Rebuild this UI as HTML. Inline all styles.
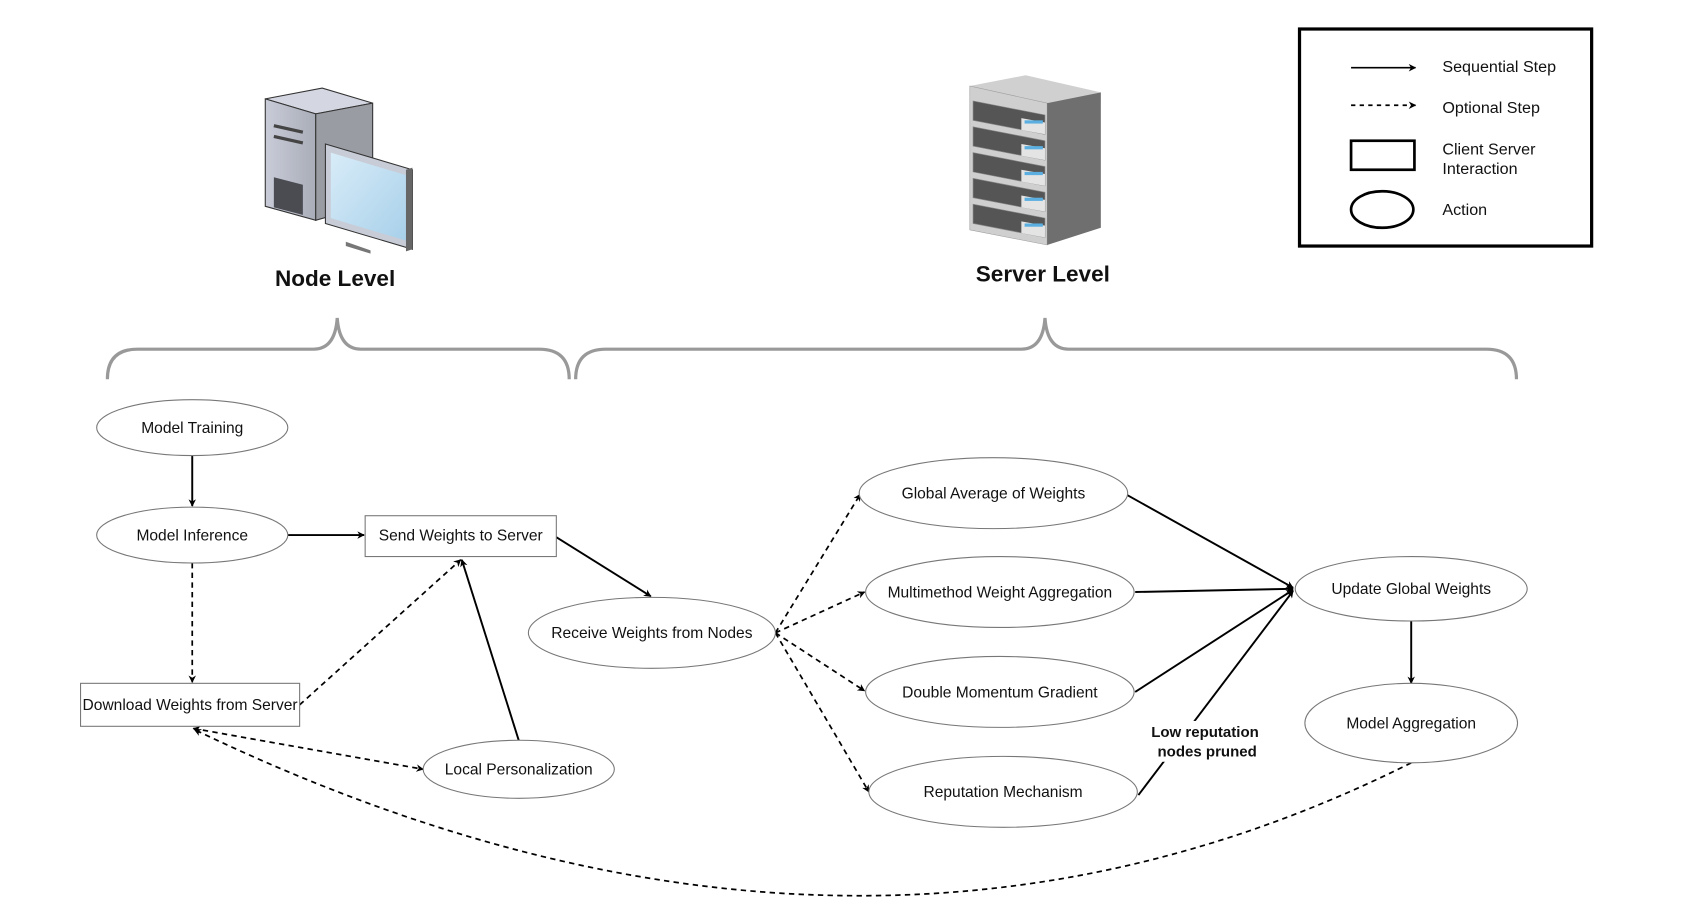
<!DOCTYPE html>
<html><head><meta charset="utf-8"><style>
html,body{margin:0;padding:0;background:#fff;}
svg{display:block;}
text{font-family:"Liberation Sans",sans-serif;fill:#111;}
</style></head><body>
<svg width="1684" height="924" viewBox="0 0 1568 860" preserveAspectRatio="none" xmlns="http://www.w3.org/2000/svg">
<defs>
<marker id="a" viewBox="0 0 10 10" refX="9" refY="5" markerWidth="7" markerHeight="7" orient="auto-start-reverse" markerUnits="userSpaceOnUse"><path d="M0,0 L10,5 L0,10 L3,5 z" fill="#000"/></marker>
<linearGradient id="tw" x1="0" x2="1"><stop offset="0" stop-color="#c9ccd8"/><stop offset="1" stop-color="#a9adb8"/></linearGradient>
<linearGradient id="scr" x1="0" y1="0" x2="1" y2="1"><stop offset="0" stop-color="#d8ecf8"/><stop offset="1" stop-color="#a8d0ea"/></linearGradient>
</defs>

<polygon points="247,92 300,82 347,96 294,106" fill="#d4d7e2" stroke="#333" stroke-width="1"/>
<polygon points="247,92 294,106 294,205 247,192" fill="url(#tw)" stroke="#333" stroke-width="1"/>
<polygon points="294,106 347,96 347,190 294,205" fill="#9a9ca3" stroke="#333" stroke-width="1"/>
<line x1="255" y1="117" x2="282" y2="123" stroke="#444" stroke-width="3"/>
<line x1="255" y1="127" x2="282" y2="133" stroke="#444" stroke-width="3"/>
<polygon points="255,165 282,172 282,200 255,193" fill="#4a4c52"/>
<polygon points="322,225 345,233 345,236 322,229" fill="#777"/>
<polygon points="303,134 384,158 384,232 303,208" fill="#c8ccd6" stroke="#333" stroke-width="1"/>
<polygon points="308,142 378,163 378,224 308,203" fill="url(#scr)"/>
<polygon points="378,158 384,156 384,232 378,234" fill="#666"/>

<polygon points="903,80 955,70 1025,86 975,96" fill="#d0d0d0"/>
<polygon points="903,80 975,96 975,228 903,214" fill="#cfcfcf" stroke="#999" stroke-width="0.5"/>
<polygon points="975,96 1025,86 1025,212 975,228" fill="#6f6f6f"/>
<g fill="#555" stroke="#888" stroke-width="0.6">
<polygon points="906,94 973,107 973,125 906,112"/>
<polygon points="906,118 973,131 973,149 906,136"/>
<polygon points="906,142 973,155 973,173 906,160"/>
<polygon points="906,166 973,179 973,197 906,184"/>
<polygon points="906,190 973,203 973,221 906,208"/>
</g>
<g fill="#e4e4e4">
<polygon points="951,110 973,114 973,125 951,121"/>
<polygon points="951,134 973,138 973,149 951,145"/>
<polygon points="951,158 973,162 973,173 951,169"/>
<polygon points="951,182 973,186 973,197 951,193"/>
<polygon points="951,206 973,210 973,221 951,217"/>
</g>
<g fill="#5aaee0">
<rect x="954" y="112" width="17" height="3"/><rect x="954" y="136" width="17" height="3"/><rect x="954" y="160" width="17" height="3"/><rect x="954" y="184" width="17" height="3"/><rect x="954" y="208" width="17" height="3"/>
</g>

<text x="312" y="266" font-size="21" font-weight="bold" text-anchor="middle">Node Level</text>
<text x="971" y="262" font-size="21" font-weight="bold" text-anchor="middle">Server Level</text>

<g fill="none" stroke="#999" stroke-width="3">
<path d="M100,353 Q100,325 128,325 L292,325 Q312,325 314,296 Q316,325 336,325 L502,325 Q530,325 530,353"/>
<path d="M536,353 Q536,325 564,325 L951,325 Q971,325 973,296 Q975,325 995,325 L1384,325 Q1412,325 1412,353"/>
</g>

<rect x="1210" y="27" width="272" height="202" fill="none" stroke="#000" stroke-width="3"/>
<line x1="1258" y1="63" x2="1318" y2="63" stroke="#000" stroke-width="1.6" marker-end="url(#a)"/>
<line x1="1258" y1="98" x2="1318" y2="98" stroke="#000" stroke-width="1.6" stroke-dasharray="4,4" marker-end="url(#a)"/>
<rect x="1258" y="131" width="59" height="27" fill="none" stroke="#000" stroke-width="2.5"/>
<ellipse cx="1287" cy="195" rx="29" ry="17" fill="none" stroke="#000" stroke-width="2.5"/>
<g font-size="15">
<text x="1343" y="67">Sequential Step</text>
<text x="1343" y="105">Optional Step</text>
<text x="1343" y="144">Client Server</text>
<text x="1343" y="162">Interaction</text>
<text x="1343" y="200">Action</text>
</g>

<g stroke="#000" stroke-width="1.8" fill="none">
<line x1="179" y1="424" x2="179" y2="471" marker-end="url(#a)"/>
<line x1="268" y1="498" x2="339" y2="498" marker-end="url(#a)"/>
<line x1="483" y1="689" x2="430" y2="521" marker-end="url(#a)"/>
<line x1="518" y1="500" x2="606" y2="555" marker-end="url(#a)"/>
<line x1="1050" y1="461" x2="1204" y2="547" marker-end="url(#a)"/>
<line x1="1057" y1="551" x2="1204" y2="548" marker-end="url(#a)"/>
<line x1="1057" y1="644" x2="1204" y2="549" marker-end="url(#a)"/>
<line x1="1060" y1="740" x2="1204" y2="550" marker-end="url(#a)"/>
<line x1="1314" y1="578" x2="1314" y2="636" marker-end="url(#a)"/>
</g>
<g stroke="#000" stroke-width="1.6" fill="none" stroke-dasharray="5,4">
<line x1="179" y1="524" x2="179" y2="635" marker-end="url(#a)"/>
<line x1="279" y1="656" x2="429" y2="521" marker-end="url(#a)"/>
<line x1="180" y1="678" x2="394" y2="716" marker-start="url(#a)" marker-end="url(#a)"/>
<line x1="722" y1="589" x2="801" y2="460" marker-end="url(#a)"/>
<line x1="722" y1="589" x2="805" y2="551" marker-end="url(#a)"/>
<line x1="722" y1="589" x2="805" y2="643" marker-end="url(#a)"/>
<line x1="722" y1="589" x2="809" y2="737" marker-end="url(#a)"/>
<path d="M1314,710 Q790,972 181,679" marker-end="url(#a)"/>
</g>

<rect x="1068" y="671" width="110" height="38" fill="#fff"/>
<text x="1122" y="686" font-size="14" font-weight="bold" text-anchor="middle">Low reputation</text>
<text x="1124" y="704" font-size="14" font-weight="bold" text-anchor="middle">nodes pruned</text>

<g fill="#fff" stroke="#777" stroke-width="1">
<ellipse cx="179" cy="398" rx="89" ry="26"/>
<ellipse cx="179" cy="498" rx="89" ry="26"/>
<rect x="340" y="480" width="178" height="38"/>
<rect x="75" y="636" width="204" height="40"/>
<ellipse cx="483" cy="716" rx="89" ry="27"/>
<ellipse cx="607" cy="589" rx="115" ry="33"/>
<ellipse cx="925" cy="459" rx="125" ry="33"/>
<ellipse cx="931" cy="551" rx="125" ry="33"/>
<ellipse cx="931" cy="644" rx="125" ry="33"/>
<ellipse cx="934" cy="737" rx="125" ry="33"/>
<ellipse cx="1314" cy="548" rx="108" ry="30"/>
<ellipse cx="1314" cy="673" rx="99" ry="37"/>
</g>
<g font-size="14.5" text-anchor="middle">
<text x="179" y="403">Model Training</text>
<text x="179" y="503">Model Inference</text>
<text x="429" y="503">Send Weights to Server</text>
<text x="177" y="661">Download Weights from Server</text>
<text x="483" y="721">Local Personalization</text>
<text x="607" y="594">Receive Weights from Nodes</text>
<text x="925" y="464">Global Average of Weights</text>
<text x="931" y="556">Multimethod Weight Aggregation</text>
<text x="931" y="649">Double Momentum Gradient</text>
<text x="934" y="742">Reputation Mechanism</text>
<text x="1314" y="553">Update Global Weights</text>
<text x="1314" y="678">Model Aggregation</text>
</g>
</svg>
</body></html>
